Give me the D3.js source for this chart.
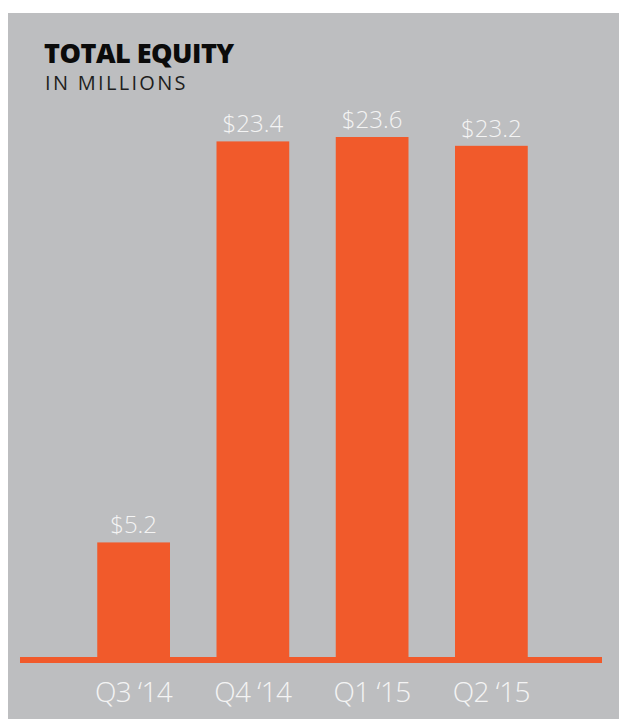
<!DOCTYPE html>
<html>
<head>
<meta charset="utf-8">
<script src="https://cdn.jsdelivr.net/npm/d3@7"></script>
<style>
  body { margin: 0; background: #fff; }
</style>
</head>
<body>
<div id="chart"></div>
<script>
var width = 621,
    height = 719;

var quarters = ["Q3 \u201814", "Q4 \u201814", "Q1 \u201815", "Q2 \u201815"];
var equity = [5.2, 23.4, 23.6, 23.2];
var valueLabels = ["$5.2", "$23.4", "$23.6", "$23.2"];

var svg = d3.select("#chart")
    .append("svg")
    .attr("width", width)
    .attr("height", height);

// grey panel
svg.append("rect")
    .attr("x", 8)
    .attr("y", 13)
    .attr("width", 611)
    .attr("height", height - 13)
    .attr("fill", "#bdbec0");

// title
svg.append("text")
    .attr("x", 44)
    .attr("y", 63)
    .attr("font-family", "Open Sans")
    .attr("font-weight", 800)
    .attr("font-size", 27)
    .attr("letter-spacing", -0.5)
    .attr("fill", "#0b0b0b")
    .text("TOTAL EQUITY");

svg.append("text")
    .attr("x", 45)
    .attr("y", 90)
    .attr("font-family", "Open Sans")
    .attr("font-size", 20)
    .attr("letter-spacing", 2.3)
    .attr("fill", "#1e1e1e")
    .text("IN MILLIONS");

var x = d3.scaleBand()
    .domain(quarters)
    .range([74, 551])
    .paddingInner(0.39)
    .paddingOuter(0.195);

var y = d3.scaleLinear()
    .domain([0, 23.6])
    .range([657, 137]);

var orange = "#f15a2b";

// bars
svg.append("g")
    .selectAll("rect")
    .data(equity)
    .enter()
    .append("rect")
    .attr("x", function(d, i) { return x(quarters[i]); })
    .attr("y", function(d) { return y(d); })
    .attr("width", x.bandwidth())
    .attr("height", function(d) { return y(0) - y(d); })
    .attr("fill", orange);

// baseline
svg.append("rect")
    .attr("x", 20)
    .attr("y", y(0))
    .attr("width", 582)
    .attr("height", 6)
    .attr("fill", orange);

// value labels
svg.append("g")
    .selectAll("text")
    .data(equity)
    .enter()
    .append("text")
    .attr("x", function(d, i) { return x(quarters[i]) + x.bandwidth() / 2; })
    .attr("y", function(d) { return y(d) - 9; })
    .attr("text-anchor", "middle")
    .attr("font-family", "Open Sans")
    .attr("font-weight", 300)
    .attr("font-size", 24)
    .attr("letter-spacing", 0)
    .attr("fill", "#f4f4f4")
    .text(function(d, i) { return valueLabels[i]; });

// category labels
svg.append("g")
    .selectAll("text")
    .data(quarters)
    .enter()
    .append("text")
    .attr("x", function(d) { return x(d) + x.bandwidth() / 2; })
    .attr("y", 702)
    .attr("text-anchor", "middle")
    .attr("font-family", "Open Sans")
    .attr("font-weight", 300)
    .attr("font-size", 28)
    .attr("letter-spacing", -0.6)
    .attr("fill", "#f4f4f4")
    .text(function(d) { return d; });
</script>
</body>
</html>
